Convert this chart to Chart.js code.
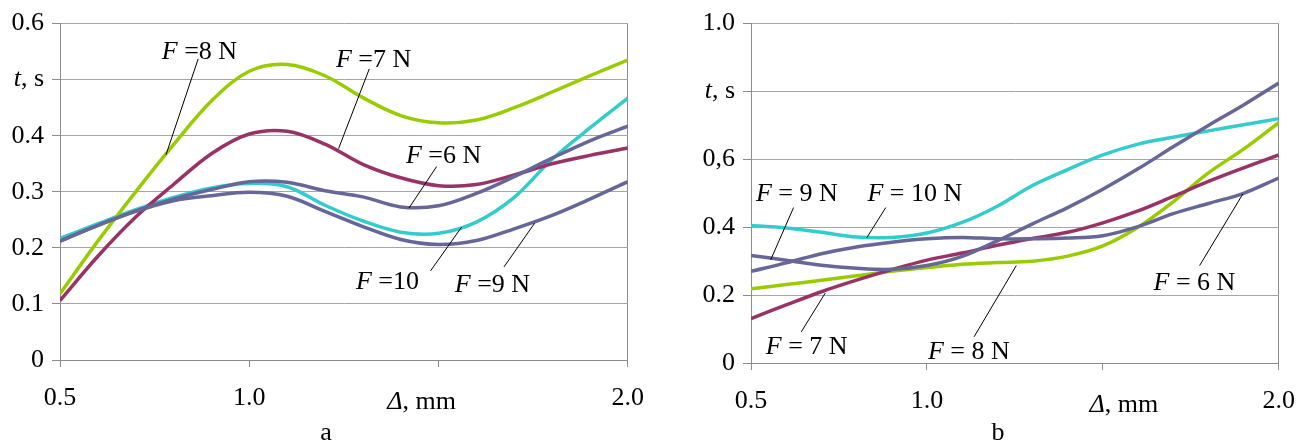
<!DOCTYPE html>
<html>
<head>
<meta charset="utf-8">
<script src="https://cdn.jsdelivr.net/npm/chart.js@4.4.1/dist/chart.umd.min.js"></script>
<style>
  html, body { margin: 0; padding: 0; background: #fff; }
  #wrap { position: relative; width: 1311px; height: 444px; overflow: hidden; }
  canvas { position: absolute; top: 0; }
  #chartA { left: 0; }
  #chartB { left: 660px; }
</style>
</head>
<body>
<div id="wrap">
  <canvas id="chartA" width="660" height="444"></canvas>
  <canvas id="chartB" width="651" height="444"></canvas>
</div>
<script>
// --- DATA ---
const xValues = [0.5, 0.6, 0.7, 0.8, 0.9, 1.0, 1.1, 1.2, 1.3, 1.4, 1.5, 1.6, 1.7, 1.8, 1.9, 2.0];

// panel a
const aF6  = [0.212, 0.240, 0.266, 0.287, 0.304, 0.318, 0.317, 0.302, 0.291, 0.273, 0.275, 0.297, 0.327, 0.360, 0.391, 0.417];
const aF7  = [0.106, 0.185, 0.255, 0.313, 0.368, 0.403, 0.408, 0.385, 0.349, 0.325, 0.311, 0.313, 0.330, 0.350, 0.365, 0.378];
const aF8  = [0.118, 0.212, 0.300, 0.384, 0.462, 0.515, 0.527, 0.507, 0.468, 0.436, 0.423, 0.428, 0.450, 0.478, 0.507, 0.535];
const aF9  = [0.212, 0.240, 0.265, 0.284, 0.293, 0.299, 0.292, 0.265, 0.238, 0.215, 0.206, 0.213, 0.234, 0.258, 0.287, 0.318];
const aF10 = [0.217, 0.243, 0.268, 0.290, 0.307, 0.315, 0.309, 0.276, 0.248, 0.228, 0.226, 0.246, 0.290, 0.358, 0.414, 0.467];

// panel b
const bF6  = [0.270, 0.295, 0.322, 0.342, 0.356, 0.366, 0.370, 0.366, 0.366, 0.368, 0.375, 0.402, 0.440, 0.470, 0.500, 0.545];
const bF7  = [0.131, 0.171, 0.210, 0.244, 0.275, 0.303, 0.324, 0.347, 0.367, 0.385, 0.413, 0.448, 0.491, 0.535, 0.575, 0.613];
const bF8  = [0.219, 0.231, 0.244, 0.257, 0.270, 0.281, 0.291, 0.296, 0.300, 0.315, 0.345, 0.400, 0.475, 0.560, 0.630, 0.708];
const bF9  = [0.317, 0.303, 0.288, 0.279, 0.276, 0.287, 0.314, 0.360, 0.410, 0.458, 0.512, 0.572, 0.637, 0.700, 0.760, 0.825];
const bF10 = [0.405, 0.398, 0.385, 0.371, 0.370, 0.383, 0.414, 0.462, 0.523, 0.570, 0.613, 0.645, 0.665, 0.684, 0.702, 0.720];

// tick labels ('' = drawn by the extras plugin)
const xTicks  = ['0.5', '1.0', '', '2.0'];
const yTicksA = ['0', '0.1', '0.2', '0.3', '0.4', '', '0.6'];
const yTicksB = ['0', '0.2', '0.4', '0,6', '', '1.0'];

// --- STYLE ---
const FONT = '"Liberation Serif", "Times New Roman", serif';
const SIZE = 26;
const GREEN = '#99cc00', WINE = '#993366', SLATE = '#666699', TEAL = '#33cccc';
const GRID = '#a6a6a6', AXIS = '#8c8c8c';

const F = (rest) => [{ t: 'F', it: true }, { t: rest }];

// callouts: text anchor + leader line, in data units
const notesA = [
  { parts: F(' =8 N'), at: [0.769, 0.536], from: [0.865, 0.537], to: [0.780, 0.366] },
  { parts: F(' =7 N'), at: [1.229, 0.522], from: [1.317, 0.519], to: [1.236, 0.377] },
  { parts: F(' =6 N'), at: [1.414, 0.351], from: [1.495, 0.345], to: [1.422, 0.271] },
  { parts: F(' =10'),  at: [1.282, 0.127], from: [1.479, 0.159], to: [1.561, 0.237] },
  { parts: F(' =9 N'), at: [1.543, 0.121], from: [1.673, 0.166], to: [1.754, 0.244] }
];
const notesB = [
  { parts: F(' = 9 N'),  at: [0.514, 0.476], from: [0.621, 0.458], to: [0.556, 0.304] },
  { parts: F(' = 10 N'), at: [0.831, 0.476], from: [0.883, 0.458], to: [0.829, 0.369] },
  { parts: F(' = 7 N'),  at: [0.542, 0.026], from: [0.643, 0.092], to: [0.711, 0.206] },
  { parts: F(' = 8 N'),  at: [1.003, 0.012], from: [1.134, 0.077], to: [1.254, 0.287] },
  { parts: F(' = 6 N'),  at: [1.644, 0.216], from: [1.775, 0.287], to: [1.898, 0.498] }
];

// --- DIBUJO DE TEXTO MIXTO ---
function fontOf(p) { return (p.it ? 'italic ' : '') + SIZE + 'px ' + FONT; }

function drawRich(ctx, parts, x, y, align) {
  let total = 0;
  parts.forEach(p => { ctx.font = fontOf(p); total += ctx.measureText(p.t).width; });
  let cx = align === 'right' ? x - total : align === 'center' ? x - total / 2 : x;
  ctx.textAlign = 'left';
  parts.forEach(p => {
    ctx.font = fontOf(p);
    ctx.fillText(p.t, cx, y);
    cx += ctx.measureText(p.t).width;
  });
}

const extras = {
  id: 'extras',
  afterDraw(chart, args, o) {
    const { ctx, chartArea } = chart;
    const xs = chart.scales.x, ys = chart.scales.y;
    ctx.save();
    ctx.fillStyle = '#000';

    // "t, s" in place of a y tick
    ctx.textBaseline = 'middle';
    drawRich(ctx, [{ t: 't', it: true }, { t: ', s' }], chartArea.left - 16, ys.getPixelForValue(o.yUnitAt), 'right');

    // "Δ, mm" in place of an x tick
    ctx.textBaseline = 'alphabetic';
    drawRich(ctx, [{ t: 'Δ', it: true }, { t: ', mm' }], xs.getPixelForValue(1.5) + o.xUnitDx, chartArea.bottom + o.xBase, 'center');

    // callouts
    ctx.strokeStyle = '#000';
    ctx.lineWidth = 1;
    o.notes.forEach(n => {
      ctx.beginPath();
      ctx.moveTo(xs.getPixelForValue(n.from[0]), ys.getPixelForValue(n.from[1]));
      ctx.lineTo(xs.getPixelForValue(n.to[0]), ys.getPixelForValue(n.to[1]));
      ctx.stroke();
      drawRich(ctx, n.parts, xs.getPixelForValue(n.at[0]), ys.getPixelForValue(n.at[1]), 'left');
    });

    // panel caption
    drawRich(ctx, [{ t: o.caption }], o.captionX, 440, 'center');
    ctx.restore();
  }
};

function makeChart(id, c) {
  const series = [
    { data: c.f6, color: SLATE },
    { data: c.f9, color: SLATE },
    { data: c.f7, color: WINE },
    { data: c.f8, color: GREEN },
    { data: c.f10, color: TEAL }
  ];
  return new Chart(document.getElementById(id), {
    type: 'line',
    data: {
      datasets: series.map(s => ({
        data: xValues.map((x, i) => ({ x, y: s.data[i] })),
        borderColor: s.color,
        borderWidth: 3.5,
        pointRadius: 0,
        tension: 0.35,
        fill: false
      }))
    },
    options: {
      responsive: false,
      animation: false,
      layout: { padding: { top: c.padTop, right: c.padRight, left: 0, bottom: 0 } },
      plugins: {
        legend: { display: false },
        tooltip: { enabled: false },
        extras: {
          notes: c.notes, yUnitAt: c.yUnitAt, xUnitDx: c.xUnitDx, xBase: c.xBase,
          caption: c.caption, captionX: c.captionX
        }
      },
      scales: {
        x: {
          type: 'linear', min: 0.5, max: 2.0,
          afterFit: (s) => { s.height = c.axisH; },
          border: { color: AXIS, width: 1 },
          grid: {
            color: (g) => g.index === 3 ? AXIS : 'rgba(0,0,0,0)',
            tickColor: AXIS, tickLength: 7, drawOnChartArea: true
          },
          ticks: {
            stepSize: 0.5, color: '#000', padding: 16, maxRotation: 0,
            font: { family: FONT, size: SIZE },
            callback: (v, i) => xTicks[i]
          }
        },
        y: {
          min: 0, max: c.yMax,
          afterFit: (s) => { s.width = c.axisW; },
          border: { color: AXIS, width: 1 },
          grid: { color: GRID, tickColor: AXIS, tickLength: 8 },
          ticks: {
            stepSize: c.yStep, color: '#000', padding: 8,
            font: { family: FONT, size: SIZE },
            callback: (v, i) => c.yTicks[i]
          }
        }
      }
    },
    plugins: [extras]
  });
}

makeChart('chartA', {
  f6: aF6, f7: aF7, f8: aF8, f9: aF9, f10: aF10,
  yMax: 0.6, yStep: 0.1, yTicks: yTicksA, yUnitAt: 0.5,
  axisW: 60, axisH: 84, padTop: 21, padRight: 32,
  xUnitDx: -17, xBase: 49, notes: notesA, caption: 'a', captionX: 326
});

makeChart('chartB', {
  f6: bF6, f7: bF7, f8: bF8, f9: bF9, f10: bF10,
  yMax: 1.0, yStep: 0.2, yTicks: yTicksB, yUnitAt: 0.8,
  axisW: 91, axisH: 81, padTop: 22, padRight: 28,
  xUnitDx: 21, xBase: 49, notes: notesB, caption: 'b', captionX: 338
});
</script>
</body>
</html>
